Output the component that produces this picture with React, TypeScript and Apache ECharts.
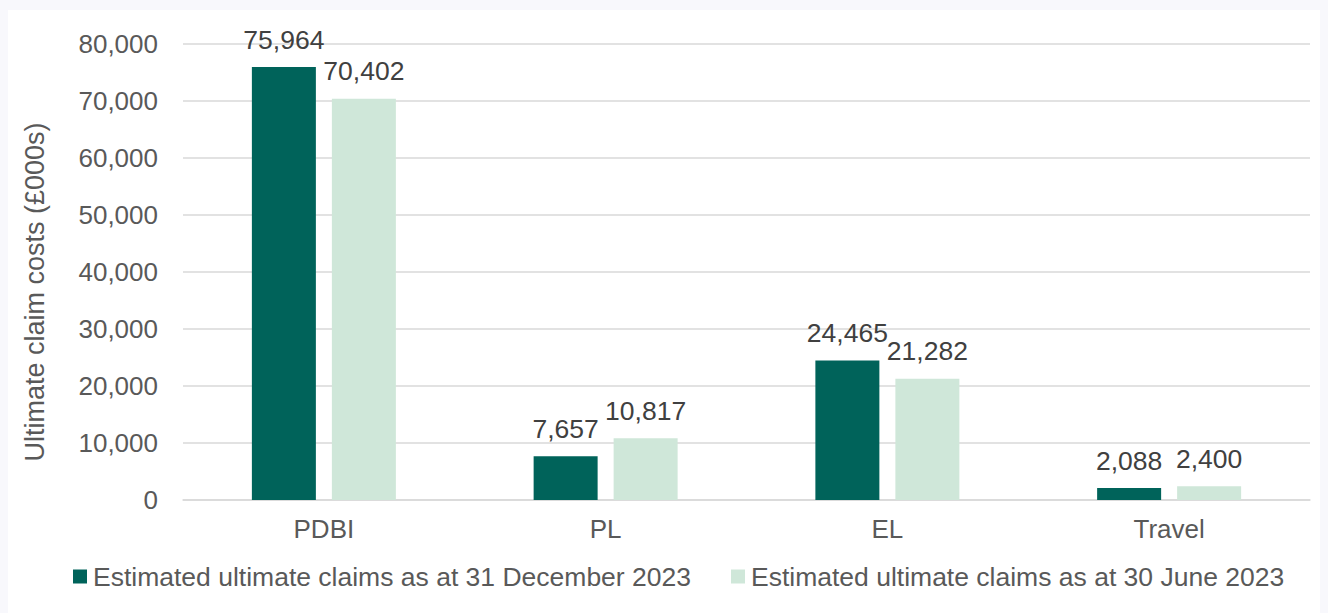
import React, { useEffect, useRef } from "react";
import * as echarts from "echarts";

const categories = ["PDBI", "PL", "EL", "Travel"];
const seriesNames = [
  "Estimated ultimate claims as at 31 December 2023",
  "Estimated ultimate claims as at 30 June 2023",
];
const dec2023 = [75964, 7657, 24465, 2088];
const jun2023 = [70402, 10817, 21282, 2400];
const yTicks = [0, 10000, 20000, 30000, 40000, 50000, 60000, 70000, 80000];
const yTitle = "Ultimate claim costs (£000s)";

const FONT = "'Liberation Sans', Arial, sans-serif";
const fmt = (v: number) => v.toLocaleString("en-GB");

export default function App() {
  const ref = useRef<HTMLDivElement>(null);
  useEffect(() => {
    document.body.style.background = "#f8f8fc";
    const chart = echarts.init(ref.current!, null, { renderer: "svg" });
    const label = {
      show: true,
      position: "top",
      distance: 14,
      fontSize: 26.5,
      fontFamily: FONT,
      color: "#404040",
      formatter: (p: any) => fmt(p.value),
    };
    chart.setOption({
      animation: false,
      backgroundColor: "#ffffff",
      textStyle: { fontFamily: FONT },
      grid: { left: 175, right: 18, top: 34, bottom: 113 },
      graphic: [
        {
          type: "text",
          x: 27,
          y: 282,
          rotation: Math.PI / 2,
          style: {
            text: yTitle,
            fontSize: 27,
            fontFamily: FONT,
            fill: "#595959",
            textAlign: "center",
            textVerticalAlign: "middle",
          },
        },
      ],
      legend: {
        top: 553,
        left: 65,
        padding: 0,
        itemWidth: 14,
        itemHeight: 14,
        itemGap: 40,
        icon: "rect",
        textStyle: { fontSize: 26.5, color: "#595959", fontFamily: FONT, padding: [0, 0, 0, 1] },
        data: seriesNames,
      },
      xAxis: {
        type: "category",
        data: categories,
        axisLine: { lineStyle: { color: "#d9d9d9", width: 1.5 } },
        axisTick: { show: false },
        axisLabel: { fontSize: 26, color: "#595959", margin: 16, fontFamily: FONT },
      },
      yAxis: {
        type: "value",
        min: yTicks[0],
        max: yTicks[yTicks.length - 1],
        interval: 10000,
        axisLine: { show: false },
        axisTick: { show: false },
        splitLine: { lineStyle: { color: "#d9d9d9", width: 1.5 } },
        axisLabel: { fontSize: 26, color: "#595959", margin: 25, fontFamily: FONT, formatter: (v: number) => fmt(v) },
      },
      series: [
        {
          name: seriesNames[0],
          type: "bar",
          data: dec2023,
          barWidth: 64,
          barGap: "25%",
          itemStyle: { color: "#00635a" },
          label,
        },
        {
          name: seriesNames[1],
          type: "bar",
          data: jun2023,
          barWidth: 64,
          barGap: "25%",
          itemStyle: { color: "#cfe7d9" },
          label,
        },
      ],
    });
    return () => chart.dispose();
  }, []);
  return <div ref={ref} style={{ width: 1320, height: 603, marginTop: 2 }} />;
}
